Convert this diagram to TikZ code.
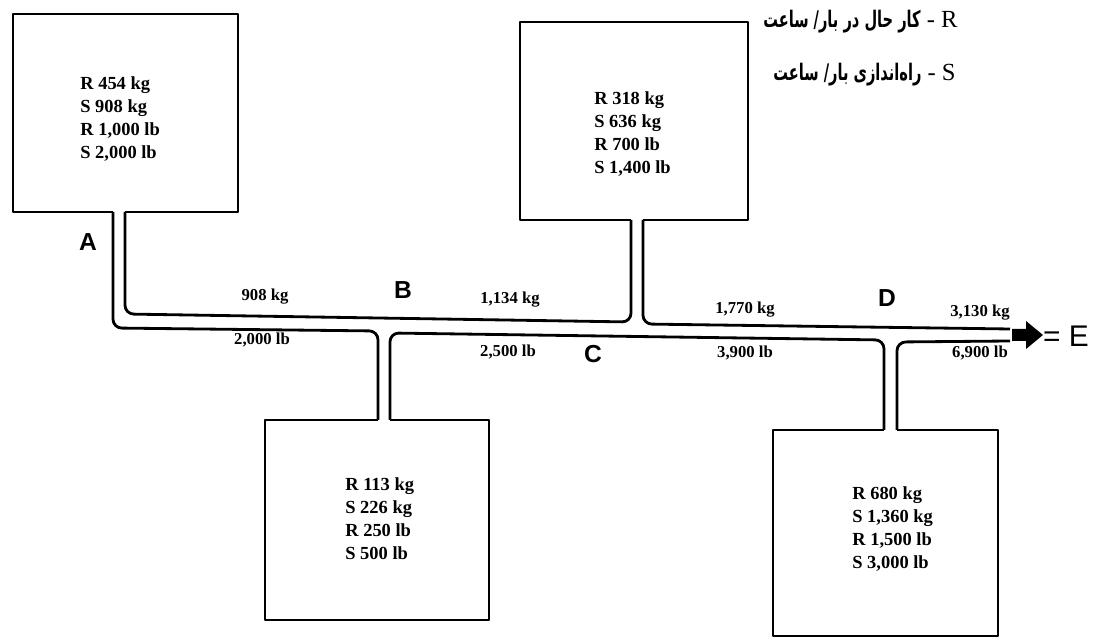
\documentclass[tikz,border=0pt]{standalone}
\usepackage{fontspec}
\usepackage{graphicx}
\setmainfont{Liberation Serif}
\newfontfamily\letterfont{Liberation Sans}
\newfontfamily\farsifont[Script=Arabic]{DejaVu Sans}
\TeXXeTstate=1
\newcommand{\farsi}[1]{\scalebox{0.64}[1]{\farsifont\bfseries\fontsize{13}{16}\selectfont\beginR #1\endR}}
\tikzset{
	wall/.style={line width=1.6pt, line join=round},
	pipe/.style={wall, rounded corners=5pt},
	boxtxt/.style={anchor=north west, align=left, inner sep=0pt, font=\bfseries\fontsize{10.5}{13.2}\selectfont},
	flowlbl/.style={inner sep=0pt, font=\bfseries\fontsize{9.5}{11}\selectfont},
	junc/.style={inner sep=0pt, font=\letterfont\bfseries\fontsize{14}{16}\selectfont},
	legend/.style={inner sep=0pt, anchor=east, font=\fontsize{14}{16}\selectfont},
}

\begin{document}
\begin{tikzpicture}[x=0.02cm, y=-0.02cm]
			%%%%% START %%%%%
			\useasboundingbox (0,0) rectangle (1113,644);
			
			% tanks
			\draw[wall] (113,212) -- (13,212) -- (13,14) -- (238,14) -- (238,212) -- (125,212);
			\draw[wall] (631,220) -- (520,220) -- (520,22) -- (748,22) -- (748,220) -- (643,220);
			\draw[wall] (378,420) -- (265,420) -- (265,620) -- (489,620) -- (489,420) -- (390,420);
			\draw[wall] (884,430) -- (773,430) -- (773,636) -- (998,636) -- (998,430) -- (897,430);
			
			% pipes
			\draw[pipe] (113,212) -- (113,328) -- (378,331) -- (378,420);
			\draw[pipe] (125,212) -- (125,314) -- (631,322) -- (631,220);
			\draw[pipe] (390,420) -- (390,333) -- (884,340) -- (884,430);
			\draw[pipe] (643,220) -- (643,324) -- (1010,329);
			\draw[pipe] (897,430) -- (897,342) -- (1010,341);
			
			\fill (1012,329) -- (1026,329) -- (1026,321) -- (1043,335) -- (1026,349) -- (1026,341) -- (1012,341) -- cycle;
			\node[inner sep=0pt, font=\letterfont\fontsize{17}{18}\selectfont] (outE) at (1066,336) {= E};
			
			\node[boxtxt] (txtA) at (80,76) {R 454 kg\\S 908 kg\\R 1,000 lb\\S 2,000 lb};
			\node[boxtxt] (txtC) at (594,91) {R 318 kg\\S 636 kg\\R 700 lb\\S 1,400 lb};
			\node[boxtxt] (txtB) at (345,477) {R 113 kg\\S 226 kg\\R 250 lb\\S 500 lb};
			\node[boxtxt] (txtD) at (852,486) {R 680 kg\\S 1,360 kg\\R 1,500 lb\\S 3,000 lb};
			
			\node[junc] (ptA) at (88,242) {A};
			\node[junc] (ptB) at (403,290) {B};
			\node[junc] (ptC) at (593,354) {C};
			\node[junc] (ptD) at (887,298) {D};
			
			\node[flowlbl] (kgAB) at (265,297) {908 kg};
			\node[flowlbl] (lbAB) at (262,340) {2,000 lb};
			\node[flowlbl] (kgBC) at (510,300) {1,134 kg};
			\node[flowlbl] (lbBC) at (508,352) {2,500 lb};
			\node[flowlbl] (kgCD) at (745,310) {1,770 kg};
			\node[flowlbl] (lbCD) at (745,353) {3,900 lb};
			\node[flowlbl] (kgDE) at (980,313) {3,130 kg};
			\node[flowlbl] (lbDE) at (980,353) {6,900 lb};
			
			\node[legend] (legR) at (958,22) {\farsi{کار حال در بار/ ساعت} - R};
			\node[legend] (legS) at (956,75) {\farsi{راه‌اندازی بار/ ساعت} - S};
			
			%%%%% END %%%%%
		\end{tikzpicture}
\end{document}
